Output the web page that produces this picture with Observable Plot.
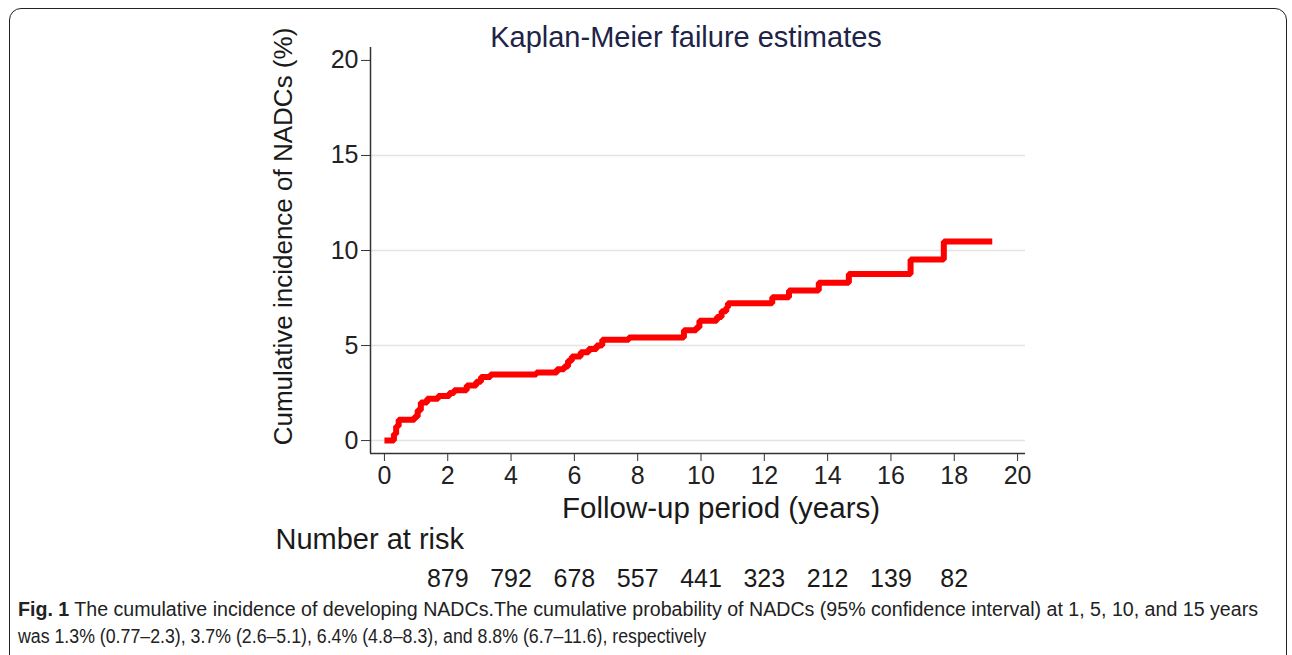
<!DOCTYPE html>
<html>
<head>
<meta charset="utf-8">
<script src="https://cdn.jsdelivr.net/npm/d3@7"></script>
<script src="https://cdn.jsdelivr.net/npm/@observablehq/plot@0.6"></script>
<style>
  html, body { margin: 0; padding: 0; background: #fff; }
  #page { position: relative; width: 1292px; height: 655px; overflow: hidden; background: #fff; }
  #border { position: absolute; left: 9px; top: 8px; width: 1278px; height: 700px;
            border: 1.5px solid #222; border-radius: 12px; box-sizing: border-box; }
  #chart { position: absolute; left: 0; top: 0; }
  #caption { position: absolute; left: 18px; top: 596px; white-space: nowrap;
             font-family: "Liberation Sans", Arial, sans-serif;
             font-size: 20px; line-height: 27px; color: #222; }
  #caption span { display: inline-block; transform-origin: 0 50%; }
  #caption b { font-weight: bold; }
</style>
</head>
<body>
<div id="page">
  <div id="border"></div>
  <div id="chart"></div>
  <div id="caption"><span id="cap1"><b>Fig. 1</b> The cumulative incidence of developing NADCs.The cumulative probability of NADCs (95% confidence interval) at 1, 5, 10, and 15 years</span><br><span id="cap2">was 1.3% (0.77–2.3), 3.7% (2.6–5.1), 6.4% (4.8–8.3), and 8.8% (6.7–11.6), respectively</span></div>
</div>
<script>
// Kaplan-Meier step curve (years, cumulative incidence %)
const kmTime = [0, 0.30, 0.37, 0.45, 0.95, 1.05, 1.15, 1.35, 1.70, 2.05, 2.20, 2.60, 2.90, 3.05, 3.35, 4.80, 5.45, 5.68, 5.80, 5.92, 6.20, 6.45, 6.70, 6.88, 7.72, 9.46, 9.85, 9.95, 10.50, 10.65, 10.80, 10.85, 12.25, 12.78, 13.72, 14.67, 16.62, 17.67, 19.20];
const kmIncidence = [0, 0.35, 0.75, 1.10, 1.25, 1.60, 2.00, 2.20, 2.35, 2.50, 2.65, 2.90, 3.10, 3.35, 3.47, 3.58, 3.75, 3.90, 4.20, 4.42, 4.65, 4.82, 5.00, 5.30, 5.42, 5.80, 5.95, 6.30, 6.50, 6.80, 7.00, 7.23, 7.54, 7.89, 8.30, 8.77, 9.53, 10.47, 10.47];

// Axes
const xTicks = [0, 2, 4, 6, 8, 10, 12, 14, 16, 18, 20];
const yTicks = [0, 5, 10, 15, 20];
const yGrid = [0, 5, 10, 15];

// Number at risk table
const riskYears = [2, 4, 6, 8, 10, 12, 14, 16, 18];
const riskCounts = [879, 792, 678, 557, 441, 323, 212, 139, 82];

// Texts
const chartTitle = "Kaplan-Meier failure estimates";
const yTitle = "Cumulative incidence of NADCs (%)";
const xTitle = "Follow-up period (years)";
const riskTitle = "Number at risk";

const km = kmTime.map((t, i) => ({t, v: kmIncidence[i]}));
const risk = riskYears.map((t, i) => ({t, n: riskCounts[i]}));

const xDomain = [-0.44, 20.25];
const yDomain = [-0.68, 20.68];
const FONT = "'Liberation Sans', Arial, Helvetica, sans-serif";

const plot = Plot.plot({
  width: 1292,
  height: 596,
  marginLeft: 370,
  marginRight: 1292 - 1025,
  marginTop: 47,
  marginBottom: 596 - 453,
  style: {fontFamily: FONT, color: "#222", background: "transparent", overflow: "visible"},
  x: {domain: xDomain},
  y: {domain: yDomain},
  marks: [
    Plot.gridY(yGrid, {stroke: "#e4e4e4", strokeOpacity: 1, strokeWidth: 1.5}),
    Plot.ruleX([xDomain[0]], {stroke: "#333", strokeWidth: 1.5}),
    Plot.ruleY([yDomain[0]], {stroke: "#333", strokeWidth: 1.5}),
    Plot.axisY(yTicks, {tickSize: 9, tickPadding: 3, fontSize: 25, label: null, stroke: "#333", fill: "#222"}),
    Plot.axisX(xTicks, {tickSize: 8, tickPadding: 5, fontSize: 25, label: null, stroke: "#333", fill: "#222"}),
    Plot.line(km, {x: "t", y: "v", curve: "step-after", stroke: "#ff0000", strokeWidth: 6, strokeLinejoin: "miter", strokeLinecap: "butt"}),
    Plot.text([chartTitle], {text: d => d, frameAnchor: "top", dx: -12, dy: -1, lineAnchor: "bottom", fontSize: 29, fill: "#1e2447"}),
    Plot.text([yTitle], {text: d => d, frameAnchor: "left", rotate: -90, dx: -87, dy: -14, textAnchor: "middle", lineAnchor: "middle", fontSize: 26, fill: "#1a1a1a"}),
    Plot.text([xTitle], {text: d => d, frameAnchor: "bottom", dx: 23, dy: 55, lineAnchor: "middle", fontSize: 29.5, fill: "#1a1a1a"}),
    Plot.text([riskTitle], {text: d => d, frameAnchor: "bottom-left", dx: -95, dy: 86, textAnchor: "start", lineAnchor: "middle", fontSize: 29, fill: "#1a1a1a"}),
    Plot.text(risk, {x: "t", text: d => String(d.n), frameAnchor: "bottom", dy: 125, lineAnchor: "middle", fontSize: 25, fill: "#1a1a1a"})
  ]
});
document.getElementById("chart").appendChild(plot);

// condense caption lines to the reference line widths
const c1 = document.getElementById("cap1"), c2 = document.getElementById("cap2");
c1.style.transform = `scaleX(${1240 / c1.getBoundingClientRect().width})`;
c2.style.transform = `scaleX(${688 / c2.getBoundingClientRect().width})`;
</script>
</body>
</html>
